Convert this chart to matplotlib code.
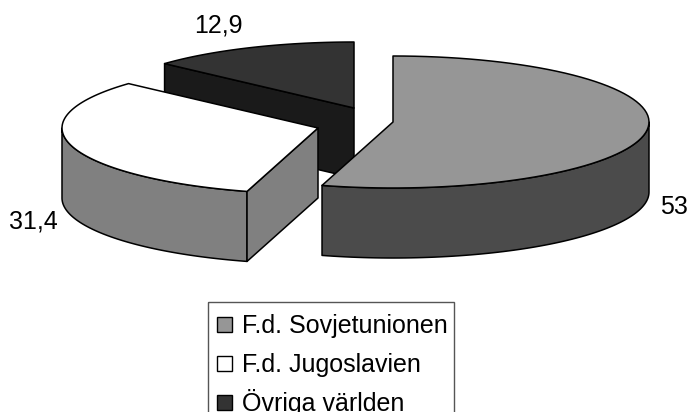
import numpy as np
import matplotlib.pyplot as plt
from matplotlib.patches import Polygon, Rectangle

plt.rcParams['font.family'] = ['Liberation Sans', 'DejaVu Sans']

# data
labels = ['F.d. Sovjetunionen', 'F.d. Jugoslavien', 'Övriga världen']
values = [53, 31.4, 12.9]
value_text = ['53', '31,4', '12,9']

# look
top_colors = ['#969696', '#ffffff', '#333333']
side_colors = ['#4b4b4b', '#808080', '#1a1a1a']
centers = [(393, 122), (318, 128), (354, 108)]   # exploded slice centres (px)
rx, ry, depth = 256, 66, 70


def pt(c, th, z=0.0):
    t = np.radians(th)
    return (c[0] + rx * np.cos(t), c[1] - ry * np.sin(t) + z)


def arc(c, a, b, z=0.0, n=80):
    return [pt(c, t, z) for t in np.linspace(a, b, n)]


fig = plt.figure(figsize=(6.9, 4.12), dpi=100)
ax = fig.add_axes([0, 0, 1, 1])
ax.set_xlim(0, 690)
ax.set_ylim(412, 0)
ax.axis('off')

total = sum(values)
spans = [v / total * 360 for v in values]
# start at 12 o'clock and go clockwise
ranges = []
end = 90.0
for s in spans:
    ranges.append((end - s, end))
    end -= s

# paint back slices first
order = sorted(range(len(values)),
               key=lambda i: -np.sin(np.radians(sum(ranges[i]) / 2)))

for i in order:
    a1, a2 = ranges[i]
    c = centers[i]
    kw = dict(ec='black', lw=1.1, joinstyle='round')
    # curved wall (front half only)
    for k in range(-1, 2):
        lo, hi = max(a1, 180 + 360 * k), min(a2, 360 + 360 * k)
        if hi > lo:
            poly = arc(c, lo, hi) + arc(c, hi, lo, depth)
            ax.add_patch(Polygon(poly, closed=True, fc=side_colors[i], **kw))
    # cut faces that face the viewer
    if np.cos(np.radians(a1)) > 1e-6:
        poly = [c, pt(c, a1), pt(c, a1, depth), (c[0], c[1] + depth)]
        ax.add_patch(Polygon(poly, closed=True, fc=side_colors[i], **kw))
    if np.cos(np.radians(a2)) < -1e-6:
        poly = [c, pt(c, a2), pt(c, a2, depth), (c[0], c[1] + depth)]
        ax.add_patch(Polygon(poly, closed=True, fc=side_colors[i], **kw))
    # top face
    poly = [c] + arc(c, a1, a2)
    ax.add_patch(Polygon(poly, closed=True, fc=top_colors[i], **kw))

# data labels
for i in range(len(values)):
    a1, a2 = ranges[i]
    mid = (a1 + a2) / 2
    x, y = pt(centers[i], mid)
    front = np.sin(np.radians(mid)) < 0
    side = 1 if np.cos(np.radians(mid)) > 0 else -1
    if front:
        x += 14 * side
        y += depth + 6
    else:
        x += 8 * side
        y -= 22
    ax.text(x, y, value_text[i], fontsize=18,
            ha='left' if side > 0 else 'right', va='center')

# legend
ax.add_patch(Rectangle((208, 302), 246, 140, fill=False, ec='#555555', lw=1))
for i, lab in enumerate(labels):
    base = 333 + 39 * i
    ax.add_patch(Rectangle((217, base - 16.5), 15, 15, fc=top_colors[i],
                           ec='black', lw=1))
    ax.text(242, base, lab, fontsize=18, ha='left', va='baseline')

fig.savefig('out.png', dpi=100)
